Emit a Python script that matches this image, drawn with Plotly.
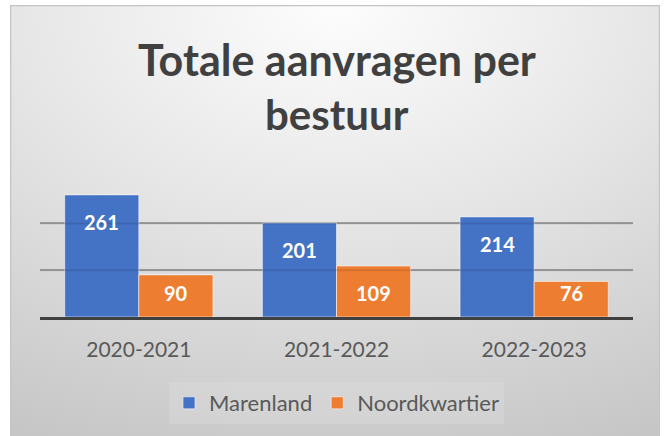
import base64
import plotly.graph_objects as go

# ---- data ----
categories = ["2020-2021", "2021-2022", "2022-2023"]
marenland = [261, 201, 214]
noordkwartier = [90, 109, 76]
series_names = ["Marenland", "Noordkwartier"]
title_lines = ["Totale aanvragen per", "bestuur"]
grid_values = [100, 200]

# ---- styling ----
colors = ["#4472C4", "#ED7D31"]
W, H = 665, 436
L, R, T, B = 40, 32, 186, 119
PW, PH = W - L - R, H - T - B
FONT = "Lato"


def py(pix):
    """pixel row -> paper y"""
    return (T + PH - pix) / PH


def px(pix):
    return (pix - L) / PW


svg = f'''<svg xmlns="http://www.w3.org/2000/svg" width="650" height="431" viewBox="0 0 650 431" preserveAspectRatio="none">
<defs><radialGradient id="g" cx="50%" cy="0%" r="110%" fx="50%" fy="0%">
<stop offset="0" stop-color="#fdfdfd"/><stop offset="0.45" stop-color="#e6e6e6"/><stop offset="1" stop-color="#c6c6c6"/>
</radialGradient></defs>
<rect width="650" height="431" fill="url(#g)"/>
<rect x="0.5" y="0.5" width="649" height="440" fill="none" stroke="#c4c4c4" stroke-width="1.5"/>
</svg>'''
src = "data:image/svg+xml;base64," + base64.b64encode(svg.encode()).decode()

fig = go.Figure()
for name, vals, col in zip(series_names, [marenland, noordkwartier], colors):
    fig.add_trace(go.Bar(
        x=categories, y=vals, name=name,
        marker=dict(color=col, line=dict(color="rgba(255,255,255,0.55)", width=1)),
        hoverinfo="skip",
    ))

# data labels
bar_px = PW / len(categories) * (1 - 0.25) / 2
for i, c in enumerate(categories):
    fig.add_annotation(x=c, y=marenland[i], xref="x", yref="y", text=f"<b>{marenland[i]}</b>",
                       showarrow=False, xshift=-bar_px / 2, yshift=-27, yanchor="middle",
                       font=dict(family=FONT, size=20, color="white"))
    fig.add_annotation(x=c, y=0, xref="x", yref="y", text=f"<b>{noordkwartier[i]}</b>",
                       showarrow=False, xshift=bar_px / 2, yshift=24, yanchor="middle",
                       font=dict(family=FONT, size=20, color="white"))

# title (two lines)
for line, pix, sz in zip(title_lines, [59, 114], [43, 42]):
    fig.add_annotation(x=px(337), y=py(pix), xref="paper", yref="paper", text=f"<b>{line}</b>",
                       showarrow=False, xanchor="center", yanchor="middle",
                       font=dict(family=FONT, size=sz, color="#404040"))

# gridlines faintly over bars
for v in grid_values:
    fig.add_shape(type="line", xref="paper", x0=0, x1=1, yref="y", y0=v, y1=v,
                  line=dict(color="rgba(0,0,0,0.10)", width=2), layer="above")

fig.add_layout_image(dict(source=src, xref="paper", yref="paper",
                          x=px(10), y=py(5), sizex=650 / PW, sizey=431 / PH,
                          xanchor="left", yanchor="top", sizing="stretch", layer="below"))

fig.update_layout(
    width=W, height=H,
    margin=dict(l=L, r=R, t=T, b=B),
    paper_bgcolor="white", plot_bgcolor="rgba(0,0,0,0)",
    barmode="group", bargap=0.25, bargroupgap=0,
    showlegend=True,
    legend=dict(orientation="h", x=0.5, xanchor="center", y=py(403), yanchor="middle",
                font=dict(family=FONT, size=22, color="#595959"),
                bgcolor="rgba(255,255,255,0.12)", itemwidth=30, traceorder="normal"),
    xaxis=dict(showline=True, linecolor="#404040", linewidth=3, ticks="",
               ticklabelstandoff=12,
               tickfont=dict(family=FONT, size=21, color="#595959"), showgrid=False),
    yaxis=dict(range=[0, 280], showticklabels=False, showgrid=True, gridcolor="#a3a3a3",
               gridwidth=2, tickvals=grid_values, zeroline=False),
    font=dict(family=FONT),
)

fig.write_html("out.html", config={"displayModeBar": False},
               post_script="document.body.style.margin='0';")
